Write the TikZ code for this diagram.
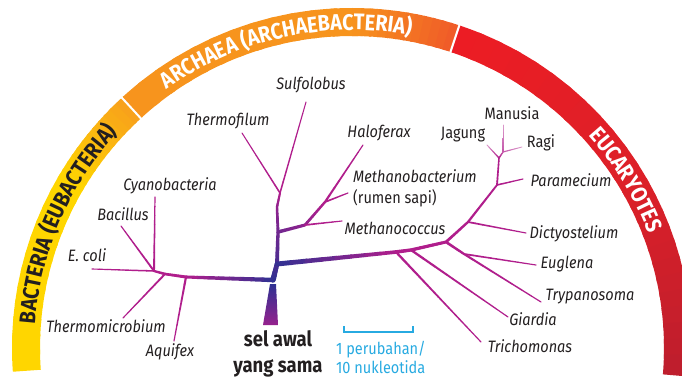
\documentclass[tikz,border=0pt]{standalone}
\usepackage{fontspec}
\setmainfont{Fira Sans}[FakeStretch=0.88]
\usetikzlibrary{calc,decorations.text}
\definecolor{treemag}{RGB}{176,30,140}
\definecolor{treeblue}{RGB}{46,49,146}
\colorlet{treeb80}{treeblue!80!treemag}
\colorlet{treeb50}{treeblue!50!treemag}
\colorlet{treeb25}{treeblue!25!treemag}
\colorlet{treelite}{treemag!75}
\colorlet{treepale}{treemag!45}
\definecolor{labgray}{RGB}{35,31,32}
\definecolor{barcyan}{RGB}{39,170,225}
\definecolor{bacyellow}{RGB}{255,214,0}
\definecolor{bacorange}{RGB}{248,160,28}
\definecolor{arcorange}{RGB}{247,148,29}
\definecolor{arcred}{RGB}{240,90,40}
\definecolor{eucred}{RGB}{237,28,36}
\definecolor{eucmid}{RGB}{220,32,40}
\definecolor{eucdark}{RGB}{190,30,45}

% tapered branch with colour blend: from, to, width1, width2, colour1, colour2
\newcommand\limb[6]{%
  \foreach \t in {0,...,7}{%
    \pgfmathsetmacro\lw{#3+(#4-#3)*(\t+.5)/8}%
    \pgfmathsetmacro\lc{100-100*(\t+.5)/8}%
    \draw[line width=\lw pt,color=#5!\lc!#6,line cap=round]
      ($(#1)!{\t/8}!(#2)$) -- ($(#1)!{(\t+1)/8}!(#2)$);
  }}

\begin{document}
\begin{tikzpicture}[x=1pt,y=1pt,
    lab/.style={font=\fontsize{16.5}{18}\selectfont\itshape,text=labgray,inner sep=0pt},
    labup/.style={font=\fontsize{16.5}{18}\selectfont,text=labgray,inner sep=0pt},
    bandtext/.style={decorate,decoration={text along path,text align=center,text={#1}}}]
  \clip (0,0) rectangle (682,378);
  \coordinate (C) at (352,30);

  % domain band
  \foreach \angA/\angB/\colA/\colB in {184/150/bacyellow/bacyellow,150/132.6/bacyellow/bacorange,
      132.6/90/arcorange/arcorange,90/71.6/arcorange/arcred,71.6/30/eucred/eucmid,30/-4/eucmid/eucdark}{
    \foreach \k in {1,...,12}{
      \pgfmathsetmacro\sA{\angA+(\angB-\angA)*(\k-1)/12}
      \pgfmathsetmacro\sB{\angA+(\angB-\angA)*(\k+0.3)/12}
      \pgfmathsetmacro\mix{100-100*(\k-.5)/12}
      \fill[\colA!\mix!\colB] ([shift={(\sA:312)}]C) arc[start angle=\sA,end angle=\sB,radius=312]
        -- ([shift={(\sB:340)}]C) arc[start angle=\sB,end angle=\sA,radius=340] -- cycle;
    }}
  \foreach \d in {132.6,71.6}
    \draw[white,line width=2pt] ([shift={(\d:309)}]C) -- ([shift={(\d:343)}]C);

  \path[bandtext={|\fontsize{22.5}{22.5}\selectfont\bfseries\color{labgray}|BACTERIA (EUBACTERIA)}]
    ([shift={(177:318)}]C) arc[start angle=177,end angle=136,radius=318];
  \path[bandtext={|\fontsize{22.5}{22.5}\selectfont\bfseries\color{white}|ARCHAEA (ARCHAEBACTERIA)}]
    ([shift={(127:318)}]C) arc[start angle=127,end angle=78,radius=318];
  \path[bandtext={|\fontsize{22.5}{22.5}\selectfont\bfseries\color{white}|EUCARYOTES}]
    ([shift={(43:318)}]C) arc[start angle=43,end angle=20,radius=318];

  % branch points
  \coordinate (J0) at (273,98);
  \coordinate (A1) at (186,101);
  \coordinate (A2) at (165,104);
  \coordinate (A3) at (154,107);
  \coordinate (B1) at (277,114);
  \coordinate (B2) at (278,146);
  \coordinate (B3) at (277,171);
  \coordinate (B4) at (280,185);
  \coordinate (C1) at (305,153);
  \coordinate (C2) at (325,176);
  \coordinate (D2) at (396,126);
  \coordinate (D3) at (411,128);
  \coordinate (D4) at (446,136);
  \coordinate (E1) at (464,124);
  \coordinate (F1) at (468,156);
  \coordinate (F2) at (497,193);
  \coordinate (F3) at (499,220);
  \coordinate (F4) at (503,226);
  % tips
  \coordinate (tEcoli) at (92,109);
  \coordinate (tCyano) at (155,181);
  \coordinate (tBacil) at (121,152);
  \coordinate (tThmic) at (123,60);
  \coordinate (tAquif) at (174,37);
  \coordinate (tThfil) at (242,245);
  \coordinate (tSulfo) at (306,276);
  \coordinate (tHalo) at (363,233);
  \coordinate (tMcoc) at (342,157);
  \coordinate (tMbac) at (348,185);
  \coordinate (tTrich) at (481,36);
  \coordinate (tGiar) at (508,61);
  \coordinate (tTryp) at (541,76);
  \coordinate (tEugl) at (536,113);
  \coordinate (tDict) at (526,145);
  \coordinate (tPara) at (523,199);
  \coordinate (tJag) at (487,233);
  \coordinate (tMan) at (503,253);
  \coordinate (tRagi) at (522,231);

  % trunk
  \shade[top color=treeblue,bottom color=treemag!80!treeblue] (263,53) -- (278,53) -- (276,94) -- (270,94) -- cycle;

  % bacteria
  \limb{J0}{A1}{4.5}{3}{treeblue}{treemag}
  \limb{A1}{A2}{3}{2.6}{treemag}{treemag}
  \limb{A2}{A3}{2.6}{2.2}{treemag}{treemag}
  \limb{A3}{tEcoli}{1.6}{1.1}{treemag}{treemag}
  \limb{A3}{tCyano}{2}{1.1}{treemag}{treemag}
  \limb{A3}{tBacil}{2}{1.1}{treemag}{treemag}
  \limb{A2}{tThmic}{2}{1.1}{treemag}{treemag}
  \limb{A1}{tAquif}{2.2}{1.1}{treemag}{treemag}
  % archaea
  \limb{J0}{B1}{5.5}{4.5}{treeblue}{treeb80}
  \limb{B1}{B2}{4}{3.2}{treeb80}{treeb50}
  \limb{B2}{B3}{3}{2.4}{treeb50}{treeb25}
  \limb{B3}{B4}{2.4}{2}{treeb25}{treemag}
  \limb{B4}{tThfil}{1.6}{1}{treemag}{treemag}
  \limb{B4}{tSulfo}{1.6}{1}{treemag}{treemag}
  \limb{B2}{C1}{3.5}{3}{treeb50}{treeb25}
  \limb{C1}{C2}{2.8}{2.4}{treeb25}{treemag}
  \limb{C2}{tHalo}{2.2}{1.1}{treemag}{treemag}
  \limb{C1}{tMcoc}{1.8}{1.1}{treemag}{treemag}
  \limb{C2}{tMbac}{1.8}{1.1}{treemag}{treemag}
  % eucarya
  \limb{B1}{D2}{5}{3.6}{treeblue}{treemag}
  \limb{D2}{D3}{3.6}{3.3}{treemag}{treemag}
  \limb{D3}{D4}{3.3}{3}{treemag}{treemag}
  \limb{D2}{tTrich}{2.4}{1.1}{treemag}{treemag}
  \limb{D3}{tGiar}{2.4}{1.1}{treemag}{treemag}
  \limb{D4}{E1}{2.6}{2.3}{treemag}{treemag}
  \limb{E1}{tTryp}{2.2}{1.1}{treemag}{treemag}
  \limb{E1}{tEugl}{1.8}{1.1}{treemag}{treemag}
  \limb{D4}{F1}{2.8}{2.3}{treemag}{treemag}
  \limb{F1}{tDict}{1.8}{1.1}{treemag}{treemag}
  \limb{F1}{F2}{2.3}{1.8}{treemag}{treemag}
  \limb{F2}{tPara}{1.6}{1.1}{treemag}{treemag}
  \limb{F2}{F3}{1.8}{1.5}{treemag}{treemag}
  \limb{F3}{tJag}{1.4}{0.9}{treemag}{treepale}
  \limb{F3}{F4}{1.4}{1.2}{treemag}{treelite}
  \limb{F4}{tMan}{1.2}{0.8}{treelite}{treepale}
  \limb{F4}{tRagi}{1.2}{0.8}{treelite}{treepale}

  % labels
  \node[lab] (sulfo) at (311,293) {Sulfolobus};
  \node[lab] (thfil) at (228,257) {Thermofilum};
  \node[lab] (cyano) at (170,192) {Cyanobacteria};
  \node[lab] (bacil) at (123,164) {Bacillus};
  \node[lab] (ecoli) at (87,123) {E. coli};
  \node[lab] (thmic) at (106,52) {Thermomicrobium};
  \node[lab] (aquif) at (170,26) {Aquifex};
  \node[lab] (halo) at (379,245) {Haloferax};
  \node[labup,anchor=west,align=left,font=\fontsize{16.5}{21}\selectfont] (mbac) at (353,189.5)
    {\textit{Methanobacterium}\\(rumen sapi)};
  \node[lab] (mcoc) at (395,150) {Methanococcus};
  \node[labup] (man) at (512,265) {Manusia};
  \node[labup] (jag) at (463,243) {Jagung};
  \node[labup] (ragi) at (541,235) {Ragi};
  \node[lab] (para) at (571,198) {Paramecium};
  \node[lab] (dict) at (574,144) {Dictyostelium};
  \node[lab] (eugl) at (567,114) {Euglena};
  \node[lab] (tryp) at (590,81) {Trypanosoma};
  \node[lab] (giar) at (533,59) {Giardia};
  \node[lab] (trich) at (530,32) {Trichomonas};

  \node[labup,align=center,font=\fontsize{21}{26}\selectfont\bfseries] (root) at (278,24) {sel awal\\yang sama};

  % scale bar
  \coordinate (sbL) at (344,46);
  \coordinate (sbR) at (413,46);
  \draw[barcyan,line width=1.2pt] ($(sbL)+(0,6)$) -- (sbL) -- (sbR) -- ($(sbR)+(0,6)$);
  \node[labup,text=barcyan,anchor=west,align=left,font=\fontsize{16.5}{19}\selectfont] (scale) at (336,21)
    {1 perubahan/\\10 nukleotida};
\end{tikzpicture}
\end{document}
